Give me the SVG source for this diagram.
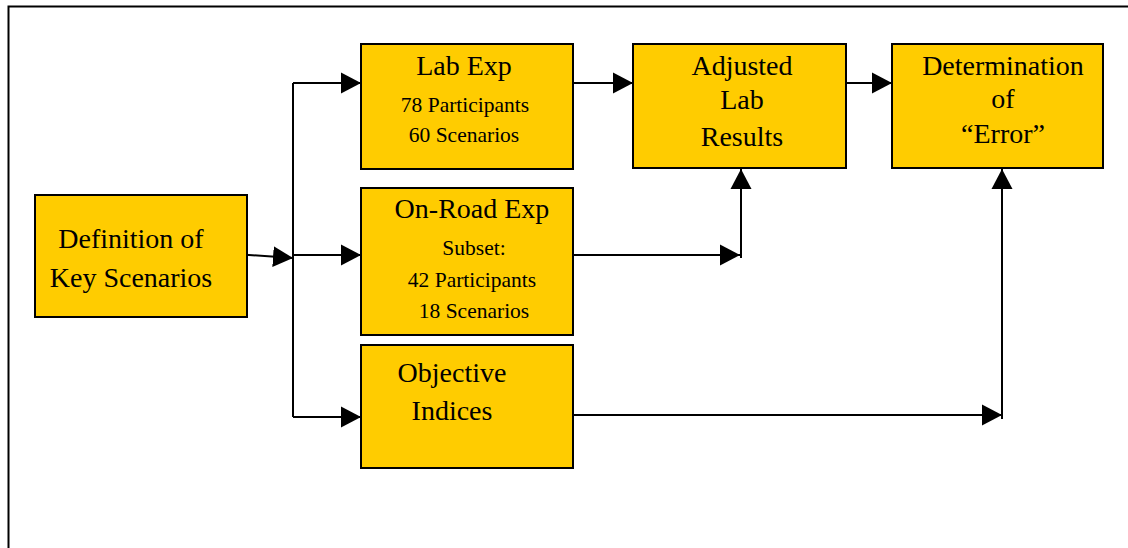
<svg xmlns="http://www.w3.org/2000/svg" width="1128" height="548" viewBox="0 0 1128 548">
<style>
.box{fill:#FFCC00;stroke:#000;stroke-width:2}
.t{font-family:"Liberation Serif","Times New Roman",serif;font-size:28px;fill:#000;text-anchor:middle}
.s{font-family:"Liberation Serif","Times New Roman",serif;font-size:21.5px;fill:#000;text-anchor:middle}
.c{fill:none;stroke:#000;stroke-width:2}
</style>
<defs>
<marker id="ah" markerUnits="userSpaceOnUse" markerWidth="20" markerHeight="22" refX="20" refY="10.5" orient="auto" viewBox="0 0 20 21">
<path d="M0,0 L20,10.5 L0,21 z" fill="#000"/>
</marker>
</defs>
<rect x="0" y="0" width="1128" height="548" fill="#fff"/>
<rect x="8.5" y="6.5" width="1150" height="600" fill="none" stroke="#000" stroke-width="2"/>
<g id="connectors">
<path class="c" d="M242,254.5 L293,258" marker-end="url(#ah)"/>
<path class="c" d="M293,417 L293,83"/>
<path class="c" d="M293,83 L361,83" marker-end="url(#ah)"/>
<path class="c" d="M293,255 L361,255" marker-end="url(#ah)"/>
<path class="c" d="M293,417 L361,417" marker-end="url(#ah)"/>
<path class="c" d="M572,83 L633,83" marker-end="url(#ah)"/>
<path class="c" d="M846,83 L892,83" marker-end="url(#ah)"/>
<path class="c" d="M572,255 L740,255" marker-end="url(#ah)"/>
<path class="c" d="M741,258 L741,169" marker-end="url(#ah)"/>
<path class="c" d="M573,415 L1002,415" marker-end="url(#ah)"/>
<path class="c" d="M1002,419 L1002,169" marker-end="url(#ah)"/>
</g>
<g id="definition">
<rect class="box" x="35" y="195" width="212" height="122"/>
<text class="t" x="131" y="248">Definition of</text>
<text class="t" x="131" y="287">Key Scenarios</text>
</g>
<g id="labexp">
<rect class="box" x="361" y="44" width="212" height="125"/>
<text class="t" x="464" y="75">Lab Exp</text>
<text class="s" x="465" y="112">78 Participants</text>
<text class="s" x="464" y="142">60 Scenarios</text>
</g>
<g id="onroad">
<rect class="box" x="361" y="188" width="212" height="147"/>
<text class="t" x="472" y="218">On-Road Exp</text>
<text class="s" x="474" y="255">Subset:</text>
<text class="s" x="472" y="287">42 Participants</text>
<text class="s" x="474" y="318">18 Scenarios</text>
</g>
<g id="objective">
<rect class="box" x="361" y="345" width="212" height="123"/>
<text class="t" x="452" y="382">Objective</text>
<text class="t" x="452" y="420">Indices</text>
</g>
<g id="adjusted">
<rect class="box" x="633" y="44" width="213" height="124"/>
<text class="t" x="742" y="75">Adjusted</text>
<text class="t" x="742" y="109">Lab</text>
<text class="t" x="742" y="146">Results</text>
</g>
<g id="determination">
<rect class="box" x="892" y="44" width="211" height="124"/>
<text class="t" x="1003" y="75">Determination</text>
<text class="t" x="1003" y="108">of</text>
<text class="t" x="1003" y="143">“Error”</text>
</g>
</svg>
